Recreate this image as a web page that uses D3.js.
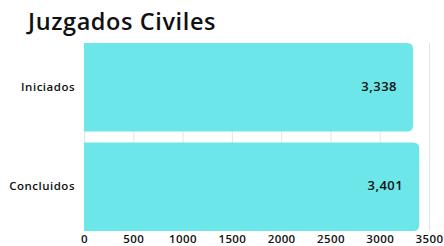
<!DOCTYPE html>
<html>
<head>
<meta charset="utf-8">
<script src="https://cdn.jsdelivr.net/npm/d3@7"></script>
<style>
	body { margin: 0; background: #fff; }
	svg { display: block; font-family: "Open Sans", sans-serif; }
</style>
</head>
<body>
<svg id="chart" width="444" height="246"></svg>
<script>
// data
var categories = ["Iniciados", "Concluidos"];
var values = [3338, 3401];
var tickValues = [0, 500, 1000, 1500, 2000, 2500, 3000, 3500];

var svg = d3.select("#chart");

//layout
var margin = { top: 43, bottom: 15, left: 84, right: 15 };

//title
svg.append("text")
	.attr("x", 28)
	.attr("y", 30)
	.attr("font-size", 23.5)
	.attr("font-weight", 600)
	.attr("letter-spacing", 0.6)
	.attr("fill", "#111")
	.text("Juzgados Civiles");

var g = svg.append("g")
	.attr("transform", "translate(" + margin.left + "," + margin.top + ")");

//scales
var xScale = d3.scaleLinear()
	.domain([0, 3500])
	.range([0, 345]);

var yScale = d3.scaleBand()
	.domain(categories)
	.range([0, 188])
	.paddingInner(0.11);

//grid
g.selectAll("line.grid")
	.data(tickValues)
	.enter()
	.append("line")
	.attr("class", "grid")
	.attr("x1", d => xScale(d) + 0.5)
	.attr("x2", d => xScale(d) + 0.5)
	.attr("y1", 0)
	.attr("y2", 188)
	.attr("stroke", "#e3e3e3")
	.attr("stroke-width", 1);

//bars, rounded on the right end only
var r = 6;
g.selectAll("path.bar")
	.data(categories)
	.enter()
	.append("path")
	.attr("class", "bar")
	.attr("fill", "#6de6e9")
	.attr("d", (d, i) => {
		var x1 = xScale(values[i]);
		var y0 = yScale(d);
		var y1 = y0 + yScale.bandwidth();
		return "M0," + y0 +
			"H" + (x1 - r) +
			"Q" + x1 + "," + y0 + " " + x1 + "," + (y0 + r) +
			"V" + (y1 - r) +
			"Q" + x1 + "," + y1 + " " + (x1 - r) + "," + y1 +
			"H0Z";
	});

//value labels
g.selectAll("text.value")
	.data(categories)
	.enter()
	.append("text")
	.attr("class", "value")
	.attr("x", (d, i) => xScale(values[i]) - 16)
	.attr("y", d => yScale(d) + yScale.bandwidth() / 2 - 1)
	.attr("dy", "0.35em")
	.attr("text-anchor", "end")
	.attr("font-size", 13)
	.attr("font-weight", 600)
	.attr("letter-spacing", 0.5)
	.attr("fill", "#111")
	.text((d, i) => d3.format(",")(values[i]));

//y axis labels
var yAxis = d3.axisLeft(yScale).tickSize(0).tickPadding(9);
g.append("g")
	.attr("class", "yAxis")
	.call(yAxis)
	.call(a => a.select(".domain").remove())
	.selectAll("text")
	.attr("font-family", "'Open Sans', sans-serif")
	.attr("font-size", 11.5)
	.attr("font-weight", 600)
	.attr("letter-spacing", 0.5)
	.attr("fill", "#111");

//x axis labels
var xAxis = d3.axisBottom(xScale)
	.tickValues(tickValues)
	.tickFormat(d3.format("d"))
	.tickSize(0)
	.tickPadding(4);
g.append("g")
	.attr("class", "xAxis")
	.attr("transform", "translate(0," + 188 + ")")
	.call(xAxis)
	.call(a => a.select(".domain").remove())
	.selectAll("text")
	.attr("font-family", "'Open Sans', sans-serif")
	.attr("font-size", 11.5)
	.attr("font-weight", 600)
	.attr("letter-spacing", 0.4)
	.attr("fill", "#111");
</script>
</body>
</html>
